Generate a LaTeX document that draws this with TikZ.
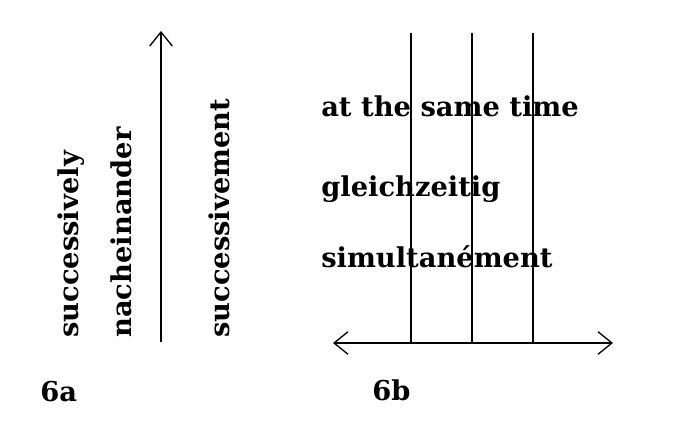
\documentclass[tikz,border=0pt]{standalone}
\usepackage{fontspec}
\setmainfont{DejaVu Serif}
\usetikzlibrary{arrows.meta}

\tikzset{
  word/.style={font=\fontsize{20.5}{24}\selectfont\bfseries, inner sep=0pt},
  axis/.style={line width=1pt}
}

\begin{document}
\begin{tikzpicture}[>={Straight Barb[length=10.5pt,width=17pt]},x=0.75pt,y=0.75pt]
  \useasboundingbox (0,0) rectangle (677,431);

  % 6a: one axis, words along it
  \coordinate (a0) at (161,89);
  \coordinate (a1) at (161,400);
  \draw[axis,->] (a0) -- (a1);

  \foreach \x/\name/\nodeLabel in {78/en/successively,
    131/de/nacheinander,
    229/fr/successivement}
  {
    \node[word,rotate=90,anchor=base west] (\name a) at (\x,93) {\nodeLabel};
  }
  \node[word,anchor=base west] (figa) at (40,29) {6a};

  % 6b: axis with three lines across it
  \coordinate (b0) at (333,88);
  \coordinate (b1) at (613,88);
  \draw[axis,<->] (b0) -- (b1);

  \foreach \y/\name/\nodeLabel in {314/en/at the same time,
    234/de/gleichzeitig,
    163/fr/simultanément}
  {
    \node[word,anchor=base west] (\name b) at (321,\y) {\nodeLabel};
  }

  \foreach \x/\name in {411/p,472/q,533/r}
  {
    \coordinate (\name) at (\x,398);
    \draw[axis] (\name) -- (\name |- b0);
  }
  \node[word,anchor=base west] (figb) at (372,30) {6b};
\end{tikzpicture}
\end{document}
